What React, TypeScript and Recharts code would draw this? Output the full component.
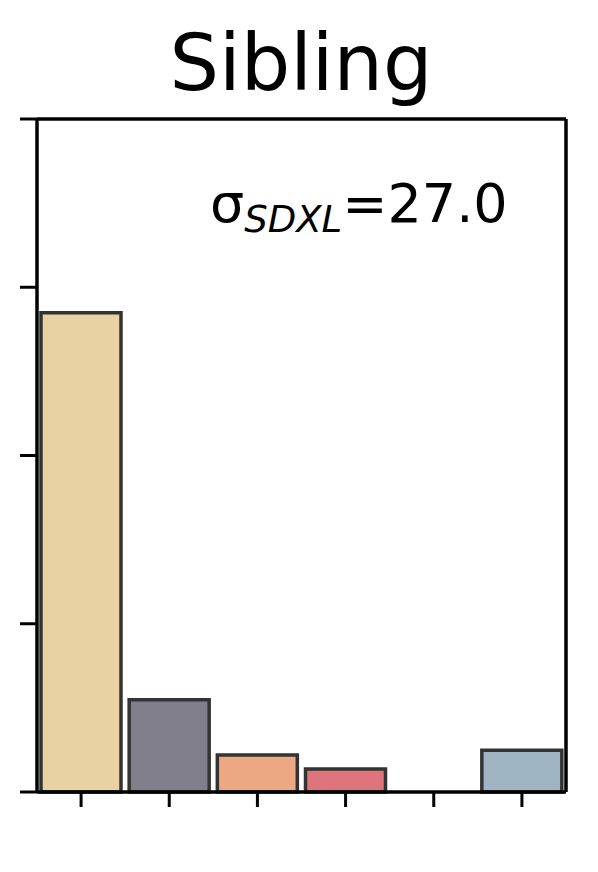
import React from 'react';
import { BarChart, Bar, XAxis, YAxis, Cell, Customized } from 'recharts';

const categories = ['A', 'B', 'C', 'D', 'E', 'F'];
const values = [0.712, 0.137, 0.055, 0.034, 0, 0.062];
const colors = ['#E8D1A2', '#827F8C', '#EBA882', '#E0747D', '#FFFFFF', '#9FB4C3'];
const yTicks = [0, 0.25, 0.5, 0.75, 1];
const title = 'Sibling';
const annotationMain = 'σ';
const annotationSub = 'SDXL';
const annotationValue = '=27.0';

const data = categories.map((c, i) => ({ name: c, value: values[i] }));

const Overlay = () => (
  <g fontFamily="DejaVu Sans, sans-serif" fill="#000">
    <text x={301} y={90} fontSize={78} textAnchor="middle">{title}</text>
    <text x={210} y={222} fontSize={54}>
      {annotationMain}
      <tspan fontSize={37} fontStyle="italic" dy={10}>{annotationSub}</tspan>
      <tspan fontSize={54} dy={-10}>{annotationValue}</tspan>
    </text>
  </g>
);

export default function App() {
  return (
    <div style={{ position: 'absolute', left: 0, top: 0, width: 598, height: 872, background: '#fff' }}>
      <BarChart
        width={598}
        height={872}
        data={data}
        margin={{ top: 109, right: 22, bottom: 70, left: 27 }}
        barCategoryGap={4}
      >
        <XAxis
          dataKey="name"
          xAxisId="bottom"
          height={10}
          tickSize={15}
          stroke="#000"
          strokeWidth={3.5}
          tickLine={{ stroke: '#000', strokeWidth: 3 }}
          axisLine={{ stroke: '#000', strokeWidth: 3.5 }}
          tickFormatter={() => ''}
          interval={0}
        />
        <XAxis
          dataKey="name"
          xAxisId="top"
          orientation="top"
          height={10}
          stroke="#000"
          strokeWidth={3.5}
          tick={false}
          tickLine={false}
          axisLine={{ stroke: '#000', strokeWidth: 3.5 }}
        />
        <YAxis
          yAxisId="left"
          width={10}
          domain={[0, 1]}
          ticks={yTicks}
          tickSize={17}
          stroke="#000"
          strokeWidth={3.5}
          tickLine={{ stroke: '#000', strokeWidth: 3 }}
          axisLine={{ stroke: '#000', strokeWidth: 3.5 }}
          tickFormatter={() => ''}
        />
        <YAxis
          yAxisId="right"
          orientation="right"
          width={10}
          domain={[0, 1]}
          stroke="#000"
          strokeWidth={3.5}
          tick={false}
          tickLine={false}
          axisLine={{ stroke: '#000', strokeWidth: 3.5 }}
        />
        <Bar
          dataKey="value"
          xAxisId="bottom"
          yAxisId="left"
          barSize={80}
          stroke="#333"
          strokeWidth={3.5}
          isAnimationActive={false}
        >
          {data.map((d, i) => (
            <Cell key={d.name} fill={colors[i]} />
          ))}
        </Bar>
        <Customized component={Overlay} />
      </BarChart>
    </div>
  );
}
